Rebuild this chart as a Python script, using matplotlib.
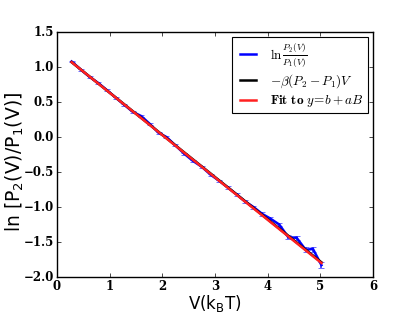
import matplotlib
matplotlib.use('Agg')
import matplotlib.pyplot as plt
from matplotlib.lines import Line2D

plt.style.use('classic')
plt.rcParams['mathtext.fontset'] = 'cm'

# measured ln(P2/P1) with error bars
V = [0.28, 0.46, 0.62, 0.79, 0.95, 1.12, 1.28, 1.44, 1.60, 1.76,
     1.93, 2.08, 2.25, 2.42, 2.58, 2.75, 2.92, 3.08, 3.24, 3.41,
     3.57, 3.73, 3.90, 4.04, 4.22, 4.39, 4.55, 4.72, 4.86, 5.02]
lnratio = [1.08, 0.96, 0.86, 0.77, 0.67, 0.56, 0.46, 0.36, 0.30, 0.19,
           0.06, 0.00, -0.12, -0.24, -0.34, -0.425, -0.54, -0.625, -0.72, -0.82,
           -0.92, -1.00, -1.10, -1.16, -1.25, -1.43, -1.44, -1.61, -1.60, -1.83]
err = [0.012, 0.012, 0.012, 0.012, 0.012, 0.012, 0.012, 0.013, 0.013, 0.013,
       0.014, 0.014, 0.015, 0.015, 0.016, 0.016, 0.017, 0.018, 0.018, 0.019,
       0.02, 0.021, 0.022, 0.024, 0.026, 0.028, 0.03, 0.033, 0.036, 0.045]

# theory line and linear fit (end points)
theory_x = [0.28, 5.02]
theory_y = [1.07, -1.79]
fit_x = [0.28, 5.02]
fit_y = [1.07, -1.80]

labels = [r'$\ln\frac{P_2(V)}{P_1(V)}$', r'$-\beta(P_2-P_1)V$',
          r'$\mathbf{Fit\ to}\ y\!=\!b+aB$']

fig = plt.figure(figsize=(4.15, 3.24), dpi=100)
ax = fig.add_axes([0.137, 0.145, 0.762, 0.756])

ax.errorbar(V, lnratio, yerr=err, color='#0000ff', lw=1.8, capsize=2.5,
            elinewidth=1.2, ecolor='#3333ff', zorder=2)
ax.plot(theory_x, theory_y, color='black', lw=1.8, zorder=3)
ax.plot(fit_x, fit_y, color='#ff2020', lw=1.8, zorder=4)

ax.set_xlim(0, 6)
ax.set_ylim(-2.0, 1.5)
ax.set_xticks([0, 1, 2, 3, 4, 5, 6])
ax.set_yticks([-2.0, -1.5, -1.0, -0.5, 0.0, 0.5, 1.0, 1.5])
for lbl in ax.get_xticklabels() + ax.get_yticklabels():
    lbl.set_family('DejaVu Serif')
    lbl.set_weight('bold')
    lbl.set_fontsize(8.5)
ax.tick_params(length=3, pad=2)

ax.set_xlabel(r'V($\mathregular{k_BT}$)', fontsize=12, family='DejaVu Sans', labelpad=0)
ax.set_ylabel(r'ln [P$\mathregular{_2}$(V)/P$\mathregular{_1}$(V)]', fontsize=13.5,
              family='DejaVu Sans')
ax.yaxis.set_label_coords(-0.098, 0.47)

handles = [Line2D([], [], color='#0000ff', lw=1.8),
           Line2D([], [], color='black', lw=1.8),
           Line2D([], [], color='#ff2020', lw=1.8)]
leg = ax.legend(handles, labels, loc='upper right', fontsize=9.5, handlelength=1.8,
                borderpad=0.3, labelspacing=0.25, borderaxespad=0.4)
leg.get_frame().set_linewidth(0.8)

fig.savefig('out.png', dpi=100, facecolor='white')
